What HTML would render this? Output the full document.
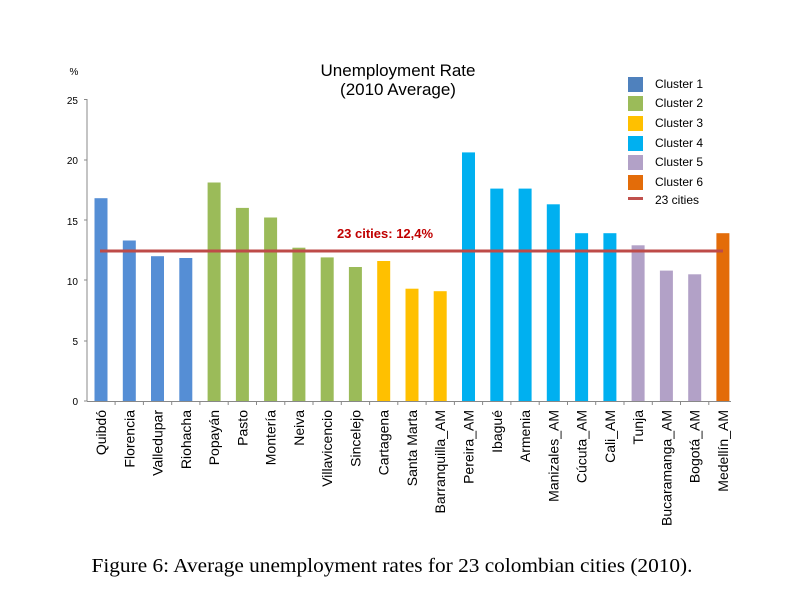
<!DOCTYPE html>
<html><head><meta charset="utf-8"><style>body{margin:0;background:#fff}svg{display:block}</style></head><body>
<svg width="804" height="598" viewBox="0 0 804 598" xmlns="http://www.w3.org/2000/svg" font-family="Liberation Sans, sans-serif">
<rect width="804" height="598" fill="#fff"/>
<text x="398" y="76" font-size="17" text-anchor="middle">Unemployment Rate</text>
<text x="398" y="95" font-size="17" text-anchor="middle">(2010 Average)</text>
<text x="74" y="75" font-size="10" text-anchor="middle">%</text>
<g font-size="10" text-anchor="end" fill="#000">
<text x="78" y="104">25</text><text x="78" y="164">20</text><text x="78" y="225">15</text><text x="78" y="285">10</text><text x="78" y="345">5</text><text x="78" y="405">0</text>
</g>
<g stroke="#888" stroke-width="1">
<line x1="87" y1="99" x2="87" y2="401"/>
<line x1="84" y1="99.5" x2="87" y2="99.5"/><line x1="84" y1="160" x2="87" y2="160"/><line x1="84" y1="220" x2="87" y2="220"/><line x1="84" y1="280" x2="87" y2="280"/><line x1="84" y1="341" x2="87" y2="341"/><line x1="84" y1="401" x2="87" y2="401"/>
<line x1="87" y1="401.5" x2="731" y2="401.5"/>
<line x1="115.1" y1="401" x2="115.1" y2="405"/><line x1="143.4" y1="401" x2="143.4" y2="405"/><line x1="171.7" y1="401" x2="171.7" y2="405"/><line x1="199.9" y1="401" x2="199.9" y2="405"/><line x1="228.2" y1="401" x2="228.2" y2="405"/><line x1="256.5" y1="401" x2="256.5" y2="405"/><line x1="284.8" y1="401" x2="284.8" y2="405"/><line x1="313.0" y1="401" x2="313.0" y2="405"/><line x1="341.3" y1="401" x2="341.3" y2="405"/><line x1="369.6" y1="401" x2="369.6" y2="405"/><line x1="397.8" y1="401" x2="397.8" y2="405"/><line x1="426.1" y1="401" x2="426.1" y2="405"/><line x1="454.4" y1="401" x2="454.4" y2="405"/><line x1="482.6" y1="401" x2="482.6" y2="405"/><line x1="510.9" y1="401" x2="510.9" y2="405"/><line x1="539.2" y1="401" x2="539.2" y2="405"/><line x1="567.5" y1="401" x2="567.5" y2="405"/><line x1="595.7" y1="401" x2="595.7" y2="405"/><line x1="624.0" y1="401" x2="624.0" y2="405"/><line x1="652.3" y1="401" x2="652.3" y2="405"/><line x1="680.5" y1="401" x2="680.5" y2="405"/><line x1="708.8" y1="401" x2="708.8" y2="405"/>
</g>
<g>
<rect x="94.5" y="198.2" width="13" height="202.8" fill="#558ed5"/>
<rect x="122.8" y="240.5" width="13" height="160.5" fill="#558ed5"/>
<rect x="151.0" y="256.2" width="13" height="144.8" fill="#558ed5"/>
<rect x="179.3" y="258.0" width="13" height="143.0" fill="#558ed5"/>
<rect x="207.6" y="182.5" width="13" height="218.5" fill="#9bbb59"/>
<rect x="235.9" y="207.9" width="13" height="193.1" fill="#9bbb59"/>
<rect x="264.1" y="217.5" width="13" height="183.5" fill="#9bbb59"/>
<rect x="292.4" y="247.7" width="13" height="153.3" fill="#9bbb59"/>
<rect x="320.7" y="257.4" width="13" height="143.6" fill="#9bbb59"/>
<rect x="348.9" y="267.0" width="13" height="134.0" fill="#9bbb59"/>
<rect x="377.2" y="261.0" width="13" height="140.0" fill="#ffc000"/>
<rect x="405.5" y="288.7" width="13" height="112.3" fill="#ffc000"/>
<rect x="433.7" y="291.2" width="13" height="109.8" fill="#ffc000"/>
<rect x="462.0" y="152.4" width="13" height="248.6" fill="#00b0f0"/>
<rect x="490.3" y="188.6" width="13" height="212.4" fill="#00b0f0"/>
<rect x="518.6" y="188.6" width="13" height="212.4" fill="#00b0f0"/>
<rect x="546.8" y="204.3" width="13" height="196.7" fill="#00b0f0"/>
<rect x="575.1" y="233.2" width="13" height="167.8" fill="#00b0f0"/>
<rect x="603.4" y="233.2" width="13" height="167.8" fill="#00b0f0"/>
<rect x="631.6" y="245.3" width="13" height="155.7" fill="#b2a1c7"/>
<rect x="659.9" y="270.6" width="13" height="130.4" fill="#b2a1c7"/>
<rect x="688.2" y="274.3" width="13" height="126.7" fill="#b2a1c7"/>
<rect x="716.4" y="233.2" width="13" height="167.8" fill="#e36c09"/>
</g>
<g font-size="14" text-anchor="end">
<text transform="translate(106,410) rotate(-90)">Quibdó</text>
<text transform="translate(134.3,410) rotate(-90)">Florencia</text>
<text transform="translate(162.5,410) rotate(-90)">Valledupar</text>
<text transform="translate(190.8,410) rotate(-90)">Riohacha</text>
<text transform="translate(219.1,410) rotate(-90)">Popayán</text>
<text transform="translate(247.4,410) rotate(-90)">Pasto</text>
<text transform="translate(275.6,410) rotate(-90)">Montería</text>
<text transform="translate(303.9,410) rotate(-90)">Neiva</text>
<text transform="translate(332.2,410) rotate(-90)">Villavicencio</text>
<text transform="translate(360.4,410) rotate(-90)">Sincelejo</text>
<text transform="translate(388.7,410) rotate(-90)">Cartagena</text>
<text transform="translate(417.0,410) rotate(-90)">Santa Marta</text>
<text transform="translate(445.2,410) rotate(-90)">Barranquilla_AM</text>
<text transform="translate(473.5,410) rotate(-90)">Pereira_AM</text>
<text transform="translate(501.8,410) rotate(-90)">Ibagué</text>
<text transform="translate(530.1,410) rotate(-90)">Armenia</text>
<text transform="translate(558.3,410) rotate(-90)">Manizales_AM</text>
<text transform="translate(586.6,410) rotate(-90)">Cúcuta_AM</text>
<text transform="translate(614.9,410) rotate(-90)">Cali_AM</text>
<text transform="translate(643.1,410) rotate(-90)">Tunja</text>
<text transform="translate(671.4,410) rotate(-90)">Bucaramanga_AM</text>
<text transform="translate(699.7,410) rotate(-90)">Bogotá_AM</text>
<text transform="translate(727.9,410) rotate(-90)">Medellín_AM</text>
</g>
<line x1="100" y1="251" x2="723" y2="251" stroke="#be4b48" stroke-width="3"/>
<text x="385" y="238" font-size="13" font-weight="bold" fill="#c00000" text-anchor="middle">23 cities: 12,4%</text>
<g font-size="12">
<rect x="628" y="77" width="15" height="15" fill="#4f81bd"/><text x="655" y="88">Cluster 1</text>
<rect x="628" y="96" width="15" height="15" fill="#9bbb59"/><text x="655" y="107">Cluster 2</text>
<rect x="628" y="116" width="15" height="15" fill="#ffc000"/><text x="655" y="127">Cluster 3</text>
<rect x="628" y="136" width="15" height="15" fill="#00b0f0"/><text x="655" y="147">Cluster 4</text>
<rect x="628" y="155" width="15" height="15" fill="#b2a1c7"/><text x="655" y="166">Cluster 5</text>
<rect x="628" y="175" width="15" height="15" fill="#e36c09"/><text x="655" y="186">Cluster 6</text>
<rect x="628" y="197" width="15" height="3" fill="#c0504d"/><text x="655" y="204">23 cities</text>
</g>
<text x="392" y="572" font-family="Liberation Serif, serif" font-size="20" text-anchor="middle" textLength="601" lengthAdjust="spacingAndGlyphs">Figure 6: Average unemployment rates for 23 colombian cities (2010).</text>
</svg>
</body></html>
